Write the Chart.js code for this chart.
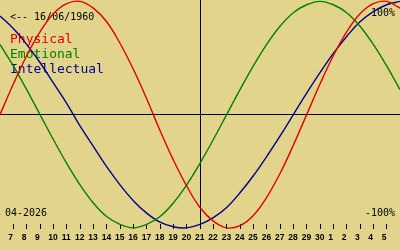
<!DOCTYPE html>
<html>
<head>
<meta charset="utf-8">
<script src="https://cdn.jsdelivr.net/npm/chart.js@4/dist/chart.umd.min.js"></script>
<style>
  html, body { margin: 0; padding: 0; background: #e2d58b; }
  #wrap { width: 400px; height: 250px; position: relative; }
</style>
</head>
<body>
<div id="wrap"><canvas id="bio"></canvas></div>
<script>
// biorhythm for birth 16/06/1960, centred on 21-04-2026
const birthText = '<-- 16/06/1960';
const monthText = '04-2026';
const topText = '100%';
const bottomText = '-100%';
const todayIndex = 15;

// day of month for each column, 6 Apr .. 6 May
const dayLabels = [6, 7, 8, 9, 10, 11, 12, 13, 14, 15, 16, 17, 18, 19, 20, 21, 22, 23, 24, 25, 26, 27, 28, 29, 30, 1, 2, 3, 4, 5, 6];

const physical = [0, 0.27, 0.52, 0.73, 0.89, 0.98, 1.0, 0.94, 0.82, 0.63, 0.40, 0.14, -0.14, -0.40, -0.63, -0.82,
  -0.94, -1.0, -0.98, -0.89, -0.73, -0.52, -0.27, 0, 0.27, 0.52, 0.73, 0.89, 0.98, 1.0, 0.94];
const emotional = [0.62, 0.43, 0.22, 0, -0.22, -0.43, -0.62, -0.78, -0.90, -0.97, -1.0, -0.97, -0.90, -0.78, -0.62, -0.43,
  -0.22, 0, 0.22, 0.43, 0.62, 0.78, 0.90, 0.97, 1.0, 0.97, 0.90, 0.78, 0.62, 0.43, 0.22];
const intellectual = [0.87, 0.76, 0.62, 0.46, 0.28, 0.10, -0.10, -0.28, -0.46, -0.62, -0.76, -0.87, -0.95, -0.99, -1.0, -0.97,
  -0.91, -0.82, -0.69, -0.54, -0.37, -0.19, 0, 0.19, 0.37, 0.54, 0.69, 0.82, 0.91, 0.97, 1.0];

const pts = arr => arr.map((v, i) => ({ x: i, y: v }));

function mkSeries(label, values, color) {
  return {
    label, data: pts(values), borderColor: color, backgroundColor: color,
    borderWidth: 1.4, pointRadius: 0, tension: 0.4, fill: false, clip: false,
  };
}

// all the free text on the chart
const textPlugin = {
  id: 'bioText',
  beforeDatasetsDraw(chart) {
    const { ctx } = chart;
    ctx.save();
    ctx.textBaseline = 'alphabetic';
    ctx.fillStyle = '#000';
    ctx.font = '10px "DejaVu Sans Mono"';
    ctx.textAlign = 'left';
    ctx.fillText(birthText, 10, 20);
    ctx.fillText(monthText, 5, 216);
    ctx.textAlign = 'right';
    ctx.fillText(topText, 395, 16);
    ctx.fillText(bottomText, 395, 216);
    ctx.textAlign = 'left';
    ctx.font = '13px "DejaVu Sans Mono"';
    chart.data.datasets.forEach((ds, k) => {
      ctx.fillStyle = ds.borderColor;
      ctx.fillText(ds.label, 10, 43 + k * 15);
    });
    ctx.restore();
  }
};

new Chart(document.getElementById('bio').getContext('2d'), {
  type: 'line',
  data: {
    datasets: [
      mkSeries('Physical', physical, '#e00000'),
      mkSeries('Emotional', emotional, '#008000'),
      mkSeries('Intellectual', intellectual, '#000090'),
    ]
  },
  options: {
    responsive: true, maintainAspectRatio: false, animation: false,
    layout: { padding: 0 },
    plugins: { legend: { display: false }, tooltip: { enabled: false } },
    scales: {
      x: {
        type: 'linear', min: 0, max: dayLabels.length - 1,
        border: { display: false },
        grid: {
          color: c => (c.tick && c.tick.value === todayIndex) ? '#000' : 'rgba(0,0,0,0)',
          tickColor: '#000', tickLength: -5, lineWidth: 1,
        },
        ticks: {
          stepSize: 1, autoSkip: false, maxRotation: 0, align: 'start', labelOffset: -5, padding: 4,
          color: '#000', font: { size: 8.5, weight: 'bold', family: 'Liberation Sans', lineHeight: 2.3 },
          callback: v => dayLabels[v],
        },
        afterBuildTicks: axis => { axis.ticks = axis.ticks.filter(t => t.value > 0 && t.value < dayLabels.length - 1); },
        afterFit: axis => { axis.height = 21; },
      },
      y: {
        min: -1.01, max: 1.012,
        border: { display: false },
        grid: { color: '#000', drawTicks: false, lineWidth: 1 },
        ticks: { display: false },
        afterBuildTicks: axis => { axis.ticks = [{ value: 0 }]; },
        afterFit: axis => { axis.width = 0; },
      }
    }
  },
  plugins: [textPlugin],
});
</script>
</body>
</html>
